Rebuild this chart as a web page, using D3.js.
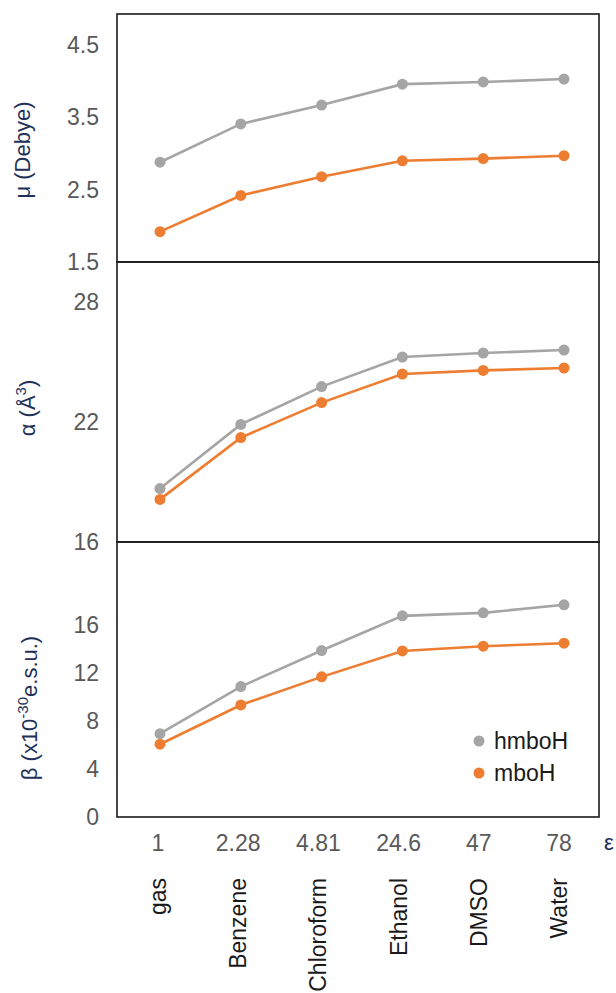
<!DOCTYPE html>
<html>
<head>
  <script src="https://d3js.org/d3.v7.min.js"></script>
  <style>
    body { margin: 0; background: #fff; font-family: Arial, "Liberation Sans", sans-serif; }
    .tick text { fill: #595959; font-size: 23px; }
    .frame { fill: none; stroke: #1a1a1a; stroke-width: 1.6px; }
    .ytitle { fill: #1f3158; font-size: 22px; }
  </style>
</head>
<body>
  <svg width="616" height="993"></svg>
  <script>
    const width = 616, height = 993;

    const solvents = ["gas", "Benzene", "Chloroform", "Ethanol", "DMSO", "Water"];
    const epsilon = ["1", "2.28", "4.81", "24.6", "47", "78"];
    const seriesNames = ["hmboH", "mboH"];
    const colors = ["#a5a5a5", "#ed7d31"];

    const muHmboH = [2.88, 3.41, 3.67, 3.96, 3.99, 4.03];
    const muMboH = [1.92, 2.42, 2.68, 2.90, 2.93, 2.97];
    const alphaHmboH = [18.67, 21.88, 23.77, 25.25, 25.45, 25.6];
    const alphaMboH = [18.13, 21.22, 22.97, 24.4, 24.58, 24.7];
    const betaHmboH = [6.94, 10.86, 13.86, 16.75, 17.0, 17.67];
    const betaMboH = [6.06, 9.33, 11.67, 13.83, 14.22, 14.47];

    const muTicks = [1.5, 2.5, 3.5, 4.5];
    const alphaTicks = [16, 22, 28];
    const betaTicks = [0, 4, 8, 12, 16];

    const left = 117, right = 599;
    const svg = d3.select("svg");

    const x = d3.scalePoint().domain(solvents).range([160, 564]);
    const xLab = d3.scalePoint().domain(solvents).range([158, 559]);

    const panels = [
      { top: 14, bottom: 262, domain: [1.5, 4.93], ticks: muTicks, data: [muHmboH, muMboH], fmt: d3.format(".1f") },
      { top: 262, bottom: 542, domain: [16, 30], ticks: alphaTicks, data: [alphaHmboH, alphaMboH], fmt: d3.format("d") },
      { top: 542, bottom: 817, domain: [0, 22.9], ticks: betaTicks, data: [betaHmboH, betaMboH], fmt: d3.format("d") }
    ];

    panels.forEach(p => {
      const y = d3.scaleLinear().domain(p.domain).range([p.bottom, p.top]);

      svg.append("rect")
        .attr("class", "frame")
        .attr("x", left).attr("y", p.top)
        .attr("width", right - left).attr("height", p.bottom - p.top);

      const ax = svg.append("g")
        .attr("transform", `translate(${left},0)`)
        .call(d3.axisLeft(y).tickValues(p.ticks).tickSize(0).tickPadding(18).tickFormat(p.fmt));
      ax.select(".domain").remove();
      ax.selectAll(".tick text").attr("font-family", null);

      const line = d3.line().x((d, i) => x(solvents[i])).y(d => y(d));

      p.data.forEach((vals, s) => {
        svg.append("path")
          .datum(vals)
          .attr("fill", "none")
          .attr("stroke", colors[s])
          .attr("stroke-width", 2.6)
          .attr("d", line);
        svg.selectAll(null)
          .data(vals)
          .enter().append("circle")
          .attr("cx", (d, i) => x(solvents[i]))
          .attr("cy", d => y(d))
          .attr("r", 5.5)
          .attr("fill", colors[s]);
      });
    });

    // y titles
    function ytitle(cx, cy, build) {
      const t = svg.append("text")
        .attr("class", "ytitle")
        .attr("text-anchor", "middle")
        .attr("transform", `translate(${cx},${cy}) rotate(-90)`);
      build(t);
    }
    ytitle(30, 150, t => t.text("μ (Debye)"));
    ytitle(35, 408, t => {
      t.append("tspan").text("α (Å");
      t.append("tspan").attr("dy", -9).attr("font-size", 15).text("3");
      t.append("tspan").attr("dy", 9).text(")");
    });
    ytitle(37, 708, t => {
      t.append("tspan").text("β (x10");
      t.append("tspan").attr("dy", -9).attr("font-size", 15).text("-30");
      t.append("tspan").attr("dy", 9).text("e.s.u.)");
    });

    // x labels: epsilon values and solvent names
    svg.append("g").selectAll("text")
      .data(epsilon)
      .enter().append("text")
      .attr("x", (d, i) => xLab(solvents[i]))
      .attr("y", 851)
      .attr("text-anchor", "middle")
      .attr("fill", "#595959")
      .attr("font-size", 23)
      .text(d => d);

    svg.append("text")
      .attr("x", 604).attr("y", 850)
      .attr("fill", "#1f3158")
      .attr("font-size", 22)
      .text("ε");

    svg.append("g").selectAll("text")
      .data(solvents)
      .enter().append("text")
      .attr("transform", d => `translate(${xLab(d) + 8},878) rotate(-90)`)
      .attr("text-anchor", "end")
      .attr("fill", "#1a1a1a")
      .attr("font-size", 23)
      .text(d => d);

    // legend
    const lg = svg.append("g");
    seriesNames.forEach((name, i) => {
      lg.append("circle")
        .attr("cx", 479).attr("cy", 741 + i * 32)
        .attr("r", 5.5).attr("fill", colors[i]);
      lg.append("text")
        .attr("x", 494).attr("y", 741 + i * 32 + 8)
        .attr("fill", "#1a1a1a")
        .attr("font-size", 23)
        .text(name);
    });
  </script>
</body>
</html>
